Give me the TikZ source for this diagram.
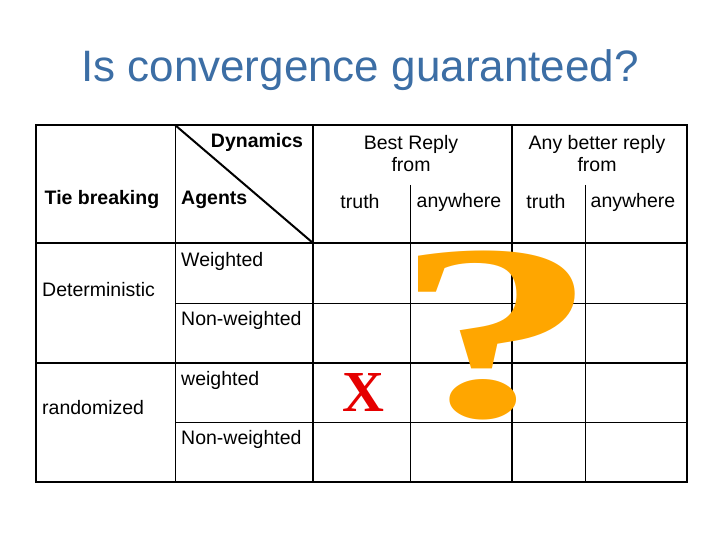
\documentclass[tikz,border=0pt]{standalone}
\usepackage{fontspec}
\setmainfont{Liberation Sans}
\newfontfamily\serifq{Liberation Serif}
\begin{document}
\begin{tikzpicture}[x=1pt,y=-1pt,
  thickl/.style={line width=2pt},
  thinl/.style={line width=0.7pt},
  lbl/.style={font=\fontsize{19.5}{22}\selectfont, inner sep=0pt},
  blbl/.style={font=\fontsize{19.5}{22}\selectfont\bfseries, inner sep=0pt}]
\useasboundingbox (0,0) rectangle (720,540);
\definecolor{titleblue}{RGB}{60,110,165}
\node[font=\fontsize{44}{50}\selectfont, text=titleblue] (title) at (360,70) {Is convergence guaranteed?};
% thin lines
\draw[thinl] (175,125) -- (175,482);
\draw[thinl] (410,185) -- (410,482);
\draw[thinl] (585,185) -- (585,482);
\draw[thinl] (175,303) -- (687,303);
\draw[thinl] (175,422) -- (687,422);
% thick lines
\draw[thickl] (36,125) rectangle (687,482);
\draw[thickl] (36,243) -- (687,243);
\draw[thickl] (36,363) -- (687,363);
\draw[thickl] (313,125) -- (313,482);
\draw[thickl] (512,125) -- (512,482);
\draw[thickl] (175,125) -- (313,243);
% question mark and X
\node[font=\serifq\bfseries\fontsize{250}{250}\selectfont, text=orange!70!yellow, inner sep=0pt, xscale=1.65] (q) at (497,336) {?};
\node[font=\serifq\bfseries\fontsize{58}{58}\selectfont, text=red!90!black, inner sep=0pt] (x) at (363,393) {X};
% texts
\node[blbl] (dyn) at (257,142) {Dynamics};
\node[blbl] (tie) at (102,200) {Tie breaking};
\node[blbl, anchor=west] (ag) at (181,200) {Agents};
\node[lbl, align=center] (br) at (411,154) {Best Reply\\from};
\node[lbl, align=center] (abr) at (597,154) {Any better reply\\from};
\node[lbl] (t1) at (360,202) {truth};
\node[lbl] (a1) at (459,202) {anywhere};
\node[lbl] (t2) at (546,202) {truth};
\node[lbl] (a2) at (633,202) {anywhere};
\node[lbl, anchor=west] (w1) at (181,261) {Weighted};
\node[lbl, anchor=west] (n1) at (181,320) {Non-weighted};
\node[lbl, anchor=west] (w2) at (181,380) {weighted};
\node[lbl, anchor=west] (n2) at (181,439) {Non-weighted};
\node[lbl, anchor=west] (det) at (42,290) {Deterministic};
\node[lbl, anchor=west] (ran) at (42,408) {randomized};
\end{tikzpicture}
\end{document}
